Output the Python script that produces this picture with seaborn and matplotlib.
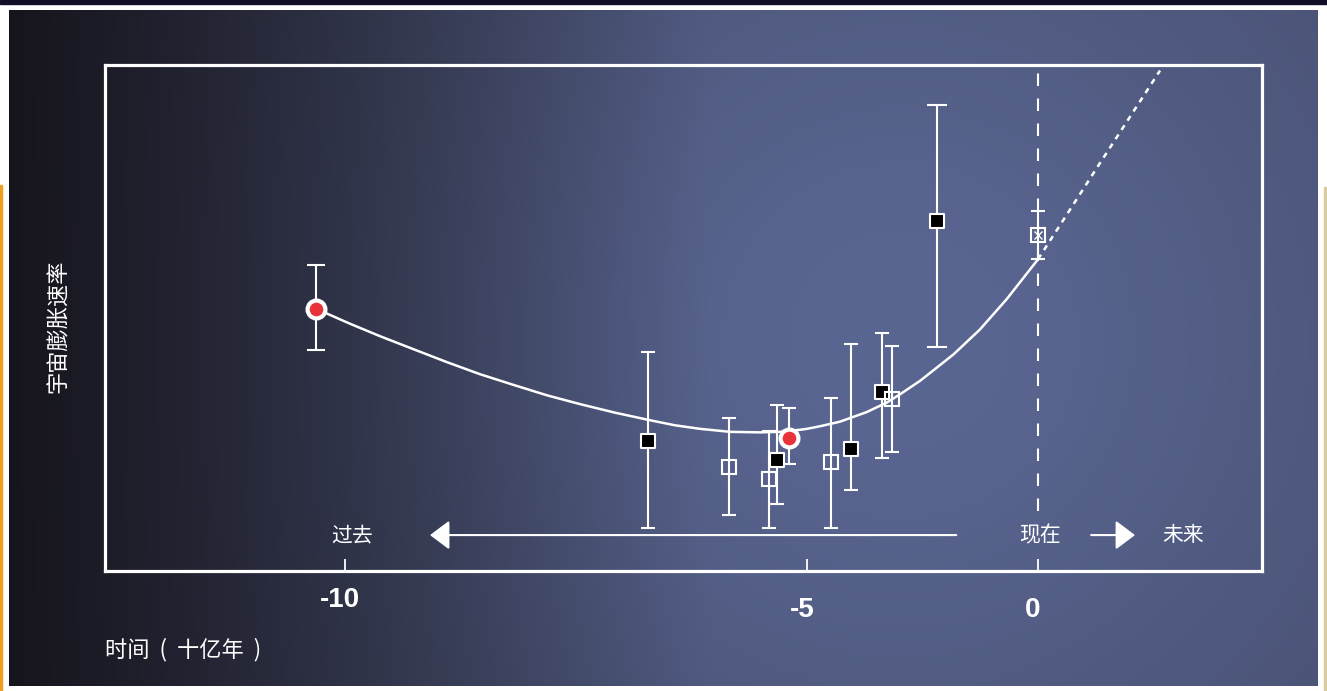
import numpy as np
import matplotlib
matplotlib.use("Agg")
import matplotlib.pyplot as plt
import matplotlib.transforms as mtransforms
from matplotlib.patches import Rectangle
import seaborn as sns

# time in billions of years (negative = past), expansion rate in arbitrary units
red_t = [-10.31, -5.19]
red_y = [5.18, 2.63]
red_hi = [6.05, 3.22]
red_lo = [4.37, 2.11]

filled_t = [-6.72, -5.32, -4.04, -3.38, -2.18]
filled_y = [2.57, 2.19, 2.42, 3.53, 6.92]
filled_hi = [4.32, 3.28, 4.49, 4.71, 9.20]
filled_lo = [0.85, 1.32, 1.61, 2.24, 4.43]

open_t = [-5.84, -5.41, -4.49, -3.15]
open_y = [2.05, 1.82, 2.16, 3.40]
open_hi = [3.03, 2.77, 3.42, 4.45]
open_lo = [1.11, 0.84, 0.84, 2.36]

today_t = [0.0]
today_y = [6.64]
today_hi = [7.11]
today_lo = [6.16]

curve_t = [-10.31, -9.95, -9.62, -9.24, -8.90, -8.54, -8.18, -7.81, -7.46, -7.08,
           -6.70, -6.43, -6.16, -5.83, -5.51, -5.29, -5.08, -5.00, -4.72, -4.29,
           -3.71, -3.27, -2.99, -2.55, -1.83, -1.26, -0.68, 0.0]
curve_y = [5.18, 4.89, 4.64, 4.37, 4.13, 3.89, 3.68, 3.47, 3.30, 3.13,
           2.98, 2.88, 2.81, 2.75, 2.74, 2.75, 2.79, 2.81, 2.86, 2.95,
           3.14, 3.33, 3.49, 3.76, 4.28, 4.77, 5.37, 6.16]

future_t = [0.0, 1.34, 2.64]
future_y = [6.16, 8.06, 9.89]

tick_vals = [-10, -5, 0]
tick_text = ["-10", "-5", "0"]

# uneven time axis: the old past is stretched compared to recent times
T_KNOTS = [-30, -10, -5, 0, 20]
U_KNOTS = [-1608, 240, 702, 933, 1857]


def fwd(t):
    return np.interp(t, T_KNOTS, U_KNOTS)


def inv(u):
    return np.interp(u, U_KNOTS, T_KNOTS)


sns.set_style("dark")
plt.rcParams['font.family'] = ['Noto Sans CJK SC', 'DejaVu Sans']

W, H = 1327, 691
fig = plt.figure(figsize=(W / 100, H / 100), dpi=100, facecolor="white")

# screenshot edge bits
fig.patches.append(Rectangle((0, 1 - 4 / H), 1, 4 / H, transform=fig.transFigure,
                             color="#120e28", zorder=0))
fig.patches.append(Rectangle((0, 0), 2 / W, 1 - 185 / H, transform=fig.transFigure,
                             color="#f0a020", zorder=0))
fig.patches.append(Rectangle((1324 / W, 0), 1.5 / W, 1 - 187 / H, transform=fig.transFigure,
                             color="#d8cca0", zorder=0))

# background panel: dark on the left, bluish glow around the middle-right
bg = fig.add_axes([9 / W, 5 / H, 1309 / W, 676 / H], zorder=0)
bg.axis("off")
yy, xx = np.mgrid[10:686, 9:1318].astype(float)
h = np.clip((xx - 10) / 700, 0, 1) ** 1.1
dark = np.array([22, 21, 29]) / 255
mid = np.array([72, 80, 112]) / 255
glow = np.array([18, 22, 34]) / 255
g = np.exp(-((xx - 900) ** 2 + (yy - 340) ** 2) / (2 * 320 ** 2))
img = dark * (1 - h[..., None]) + mid * h[..., None] + glow * g[..., None]
bg.imshow(np.clip(img, 0, 1), aspect="auto", interpolation="bilinear")

ax = fig.add_axes([105 / W, 1 - 571 / H, 1157 / W, 506 / H], zorder=1)
ax.set_facecolor("none")
ax.set_xscale("function", functions=(fwd, inv))
ax.set_xlim(-12.597, 4.848)
ax.set_ylim(0, 10)
ax.grid(False)
for s in ax.spines.values():
    s.set_color("white")
    s.set_linewidth(2.3)

# "now" line
ax.plot([0, 0], [1.19, 10], color="white", lw=1.5, ls=(0, (6, 6)), zorder=2)

# model curve and its extrapolation
sns.lineplot(x=curve_t, y=curve_y, sort=False, color="white", lw=1.8, ax=ax, zorder=3)
sns.lineplot(x=future_t, y=future_y, sort=False, color="white", lw=1.8,
             ls=(0, (2.2, 2.2)), ax=ax, zorder=3)

eb = dict(fmt="none", ecolor="white", elinewidth=1.5, capthick=1.5, zorder=4)


def errs(y, hi, lo):
    y, hi, lo = map(np.asarray, (y, hi, lo))
    return [y - lo, hi - y]


ax.errorbar(red_t[:1], red_y[:1], yerr=errs(red_y[:1], red_hi[:1], red_lo[:1]), capsize=6.5, **eb)
ax.errorbar(red_t[1:], red_y[1:], yerr=errs(red_y[1:], red_hi[1:], red_lo[1:]), capsize=5, **eb)
ax.errorbar(filled_t[:4], filled_y[:4], yerr=errs(filled_y[:4], filled_hi[:4], filled_lo[:4]), capsize=5, **eb)
ax.errorbar(filled_t[4:], filled_y[4:], yerr=errs(filled_y[4:], filled_hi[4:], filled_lo[4:]), capsize=7, **eb)
ax.errorbar(open_t, open_y, yerr=errs(open_y, open_hi, open_lo), capsize=5, **eb)
ax.errorbar(today_t, today_y, yerr=errs(today_y, today_hi, today_lo), capsize=5, **eb)

sns.scatterplot(x=filled_t, y=filled_y, marker="s", s=90, color="black",
                edgecolor="white", linewidth=1.5, ax=ax, zorder=5)
ax.plot(open_t, open_y, ls="none", marker="s", ms=9.5, mfc="none", mec="white", mew=1.5, zorder=5)
ax.plot(today_t, today_y, ls="none", marker="s", ms=9.5, mfc="none", mec="white", mew=1.5, zorder=5)
ax.plot(today_t, today_y, ls="none", marker="x", ms=6, mec="white", mew=1, zorder=5)
sns.scatterplot(x=red_t, y=red_y, marker="o", s=165, color="#e8333a",
                edgecolor="white", linewidth=3, ax=ax, zorder=6)

# past / now / future arrows
arrow = dict(arrowstyle="-|>,head_length=0.6,head_width=0.45", color="white",
             lw=1.5, mutation_scale=20, shrinkA=0, shrinkB=0)
ax.annotate("", xy=(-9.08, 0.71), xytext=(-1.77, 0.71), arrowprops=arrow, zorder=4)
ax.annotate("", xy=(2.10, 0.71), xytext=(1.15, 0.71), arrowprops=arrow, zorder=4)
txt = dict(color="white", fontsize=15, ha="center", va="center", zorder=4)
ax.text(-9.92, 0.71, "过去", **txt)
ax.text(0.04, 0.71, "现在", **txt)
ax.text(3.14, 0.71, "未来", **txt)

# ticks
ax.set_yticks([])
ax.set_xticks(tick_vals)
ax.set_xticklabels(tick_text, fontfamily="Liberation Sans", fontweight="bold", fontsize=20, color="white")
ax.tick_params(axis="x", direction="in", length=9, width=1.3, color="white", pad=18.6, bottom=True)
for lab, dy in zip(ax.get_xticklabels(), [10, 0, 0]):
    lab.set_transform(lab.get_transform() + mtransforms.ScaledTranslation(-5 / 100, dy / 100, fig.dpi_scale_trans))

ax.set_xlabel("时间  (  十亿年  )", color="white", fontsize=16, ha="left", va="center")
ax.xaxis.set_label_coords(0, -0.156)
ax.set_ylabel("宇宙膨胀速率", color="white", fontsize=16, va="center", ha="center")
ax.yaxis.set_label_coords(-0.0406, 0.484)

fig.savefig("out.png", dpi=100, facecolor=fig.get_facecolor())
